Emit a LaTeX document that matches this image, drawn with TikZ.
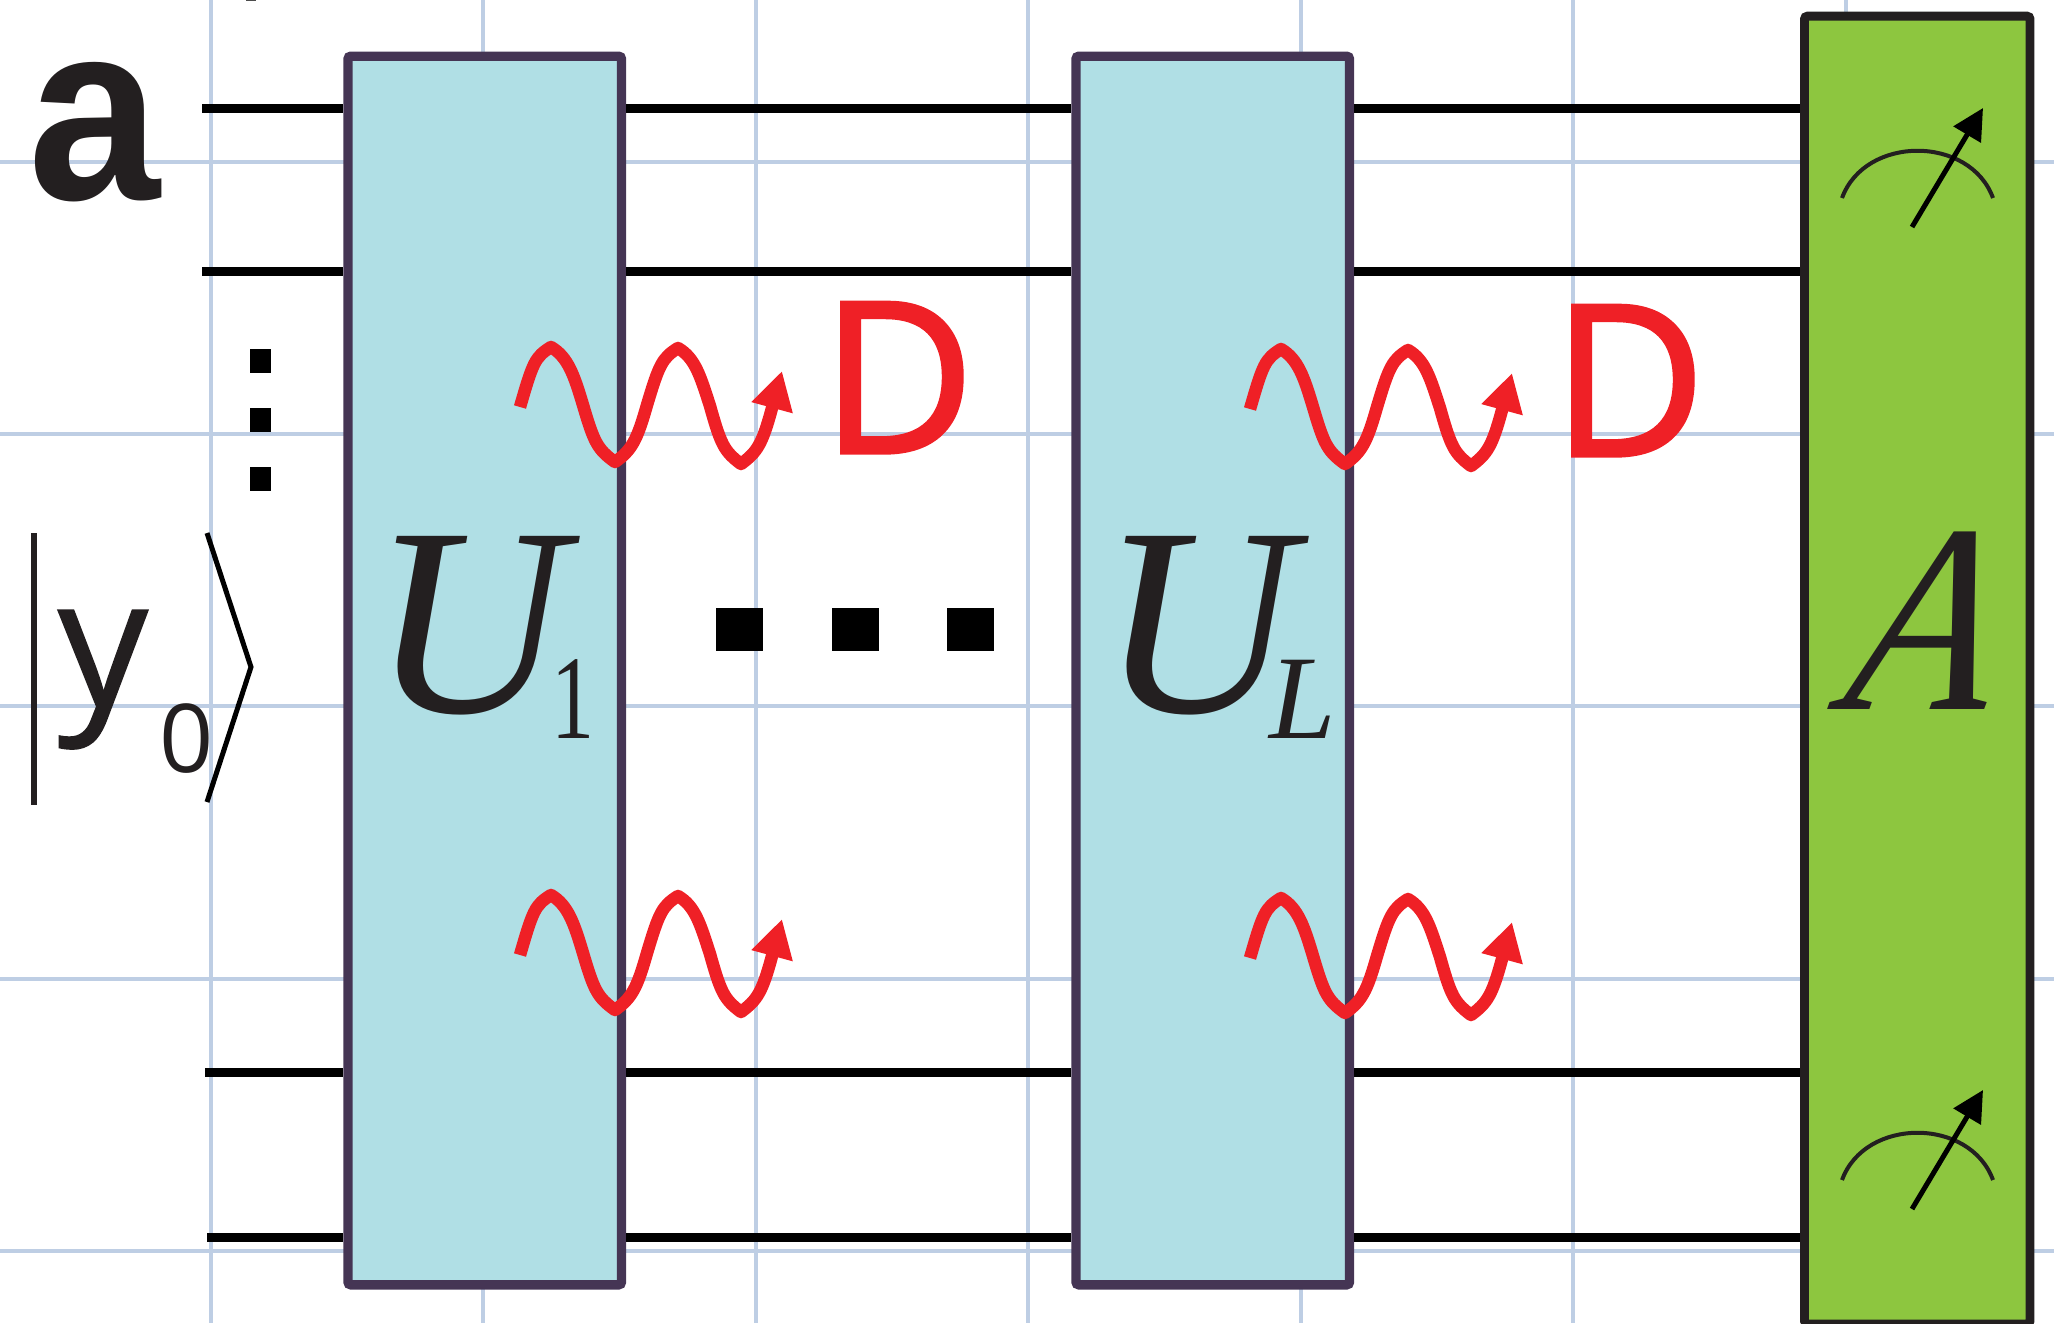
\documentclass[tikz,border=0pt]{standalone}
\usepackage{fontspec}
\setmainfont{Liberation Serif}
\newfontfamily\labelsans[FakeBold=0.8]{Open Sans}
\newfontfamily\subsans{Open Sans}
\newfontfamily\decaysans[FakeBold=1.6]{Open Sans}
\newfontfamily\panelsans[FakeStretch=0.93]{Liberation Sans}
\newfontfamily\slantserif[FakeSlant=0.19,FakeStretch=0.88]{Liberation Serif}
\newfontfamily\narrowserif[FakeStretch=0.72]{Liberation Serif}
\usetikzlibrary{arrows.meta, positioning}
\definecolor{gridblue}{RGB}{190,206,228}
\definecolor{gateteal}{RGB}{176,223,229}
\definecolor{gateedge}{RGB}{69,53,84}
\definecolor{readgreen}{RGB}{141,198,63}
\definecolor{inkblack}{RGB}{35,31,32}
\definecolor{decayred}{RGB}{239,32,38}

\begin{document}
\begin{tikzpicture}[
  x=0.01cm, y=-0.01cm,
  gridline/.style={gridblue, line width=0.035cm},
  wire/.style={black, line width=0.09cm},
  gate/.style={rectangle, draw=gateedge, fill=gateteal, line width=0.093cm, minimum width=2.735cm, minimum height=12.28cm, rounded corners=0.03cm, inner sep=0pt},
  readout/.style={rectangle, draw=inkblack, fill=readgreen, line width=0.088cm, minimum width=2.255cm, minimum height=13.07cm, rounded corners=0.03cm, inner sep=0pt},
  glyph/.style={inner sep=0pt, outer sep=0pt, anchor=base, text=inkblack},
  bigitalic/.style={glyph, font=\fontsize{76.5}{80}\selectfont\itshape},
  subscript/.style={glyph, font=\fontsize{34}{38}\narrowserif},
  decay/.style={decayred, line width=0.125cm, line join=round, -{Triangle[length=0.38cm, width=0.4cm]}},
  decaylabel/.style={glyph, text=decayred, font=\fontsize{60}{64}\decaysans},
  dotbig/.style={rectangle, fill=black, minimum width=0.475cm, minimum height=0.43cm, inner sep=0pt},
  dotsmall/.style={rectangle, fill=black, minimum width=0.215cm, minimum height=0.24cm, inner sep=0pt},
  needle/.style={black, line width=0.05cm, -{Triangle[length=0.31cm, width=0.31cm]}},
  dial/.style={inkblack, line width=0.04cm}
]
  \useasboundingbox (0,0) rectangle (2054,1323);

  % grid behind everything
  \foreach \gx in {211,483,756,1028,1301,1573,1846}
    \draw[gridline] (\gx,0) -- (\gx,1323);
  \foreach \gy in {162,434,706,979,1251}
    \draw[gridline] (0,\gy) -- (2054,\gy);

  % boxes
  \node[gate] (uone) at (484.75,670.5) {};
  \node[gate] (ultwo) at (1212.75,670.5) {};
  \node[readout] (aread) at (1917.25,670) {};

  % wires
  \foreach \wy/\wx/\wname in {108/202/wa, 271/202/wb, 1072/205/wc, 1237/207/wd} {
    \coordinate (\wname) at (\wx,\wy);
    \draw[wire] (\wname) -- (\wname -| uone.west);
    \draw[wire] (\wname -| uone.east) -- (\wname -| ultwo.west);
    \draw[wire] (\wname -| ultwo.east) -- (\wname -| aread.west);
  }

  % decay waves
  \foreach \dx/\dy in {0/0, 0/548, 730/2, 730/551}
    \draw[decay, shift={(\dx,\dy)}] (520,407) .. controls (533,362) and (535,357) .. (551,347)
      .. controls (568,357) and (574,375) .. (583,405)
      .. controls (594,442) and (597,449) .. (615,462)
      .. controls (632,450) and (637,440) .. (647,405)
      .. controls (659,365) and (662,358) .. (678,348)
      .. controls (695,358) and (700,375) .. (710,406)
      .. controls (721,445) and (724,451) .. (741,464)
      .. controls (757,452) and (762,445) .. (772,408) -- (782,371);

  \node[decaylabel] (dleft) at (898,453) {D};
  \node[decaylabel] (dright) at (1629,456) {D};

  % labels
  \node[glyph, font=\fontsize{72.5}{76}\panelsans\bfseries] (panel) at (94.5,199) {a};
  \node[glyph, font=\fontsize{51}{54}\labelsans] (ylabel) at (103,706) {y};
  \node[glyph, font=\fontsize{27}{30}\subsans] (ysub) at (187,772) {0};
  \node[bigitalic] (ubig) at (469,712.5) {U};
  \node[subscript] (uonesub) at (573,738) {1};
  \node[bigitalic] (ulbig) at (1198,712.5) {U};
  \node[glyph, font=\fontsize{34}{38}\selectfont\itshape] (ulsub) at (1303,738) {L};
  \node[glyph, font=\fontsize{76.5}{80}\slantserif\itshape] (abig) at (1913,709) {A};

  % ket
  \coordinate (kettop) at (34,533);
  \coordinate (ketbot) at (34,805);
  \coordinate (angtop) at (207,533);
  \coordinate (angmid) at (251,667);
  \coordinate (angbot) at (207,802);
  \draw[inkblack, line width=0.05cm] (kettop) -- (ketbot);
  \draw[black, line width=0.05cm] (angtop) -- (angmid) -- (angbot);

  % dots
  \node[rectangle, fill=black!70, minimum width=0.1cm, minimum height=0.02cm, inner sep=0pt] (scut) at (251,0) {};
  \foreach \sy/\sname in {361/sa, 420/sb, 479/sc}
    \node[dotsmall] (\sname) at (260.5,\sy) {};
  \foreach \bx/\bname in {739.5/ba, 855.5/bb, 970.5/bc}
    \node[dotbig] (\bname) at (\bx,629.5) {};

  % meters
  \foreach \my in {0,982} {
    \draw[dial, shift={(0,\my)}] (1842,198) .. controls (1865,135) and (1970,135) .. (1993,198);
    \draw[needle, shift={(0,\my)}] (1912,227) -- (1983,108);
  }
\end{tikzpicture}
\end{document}
